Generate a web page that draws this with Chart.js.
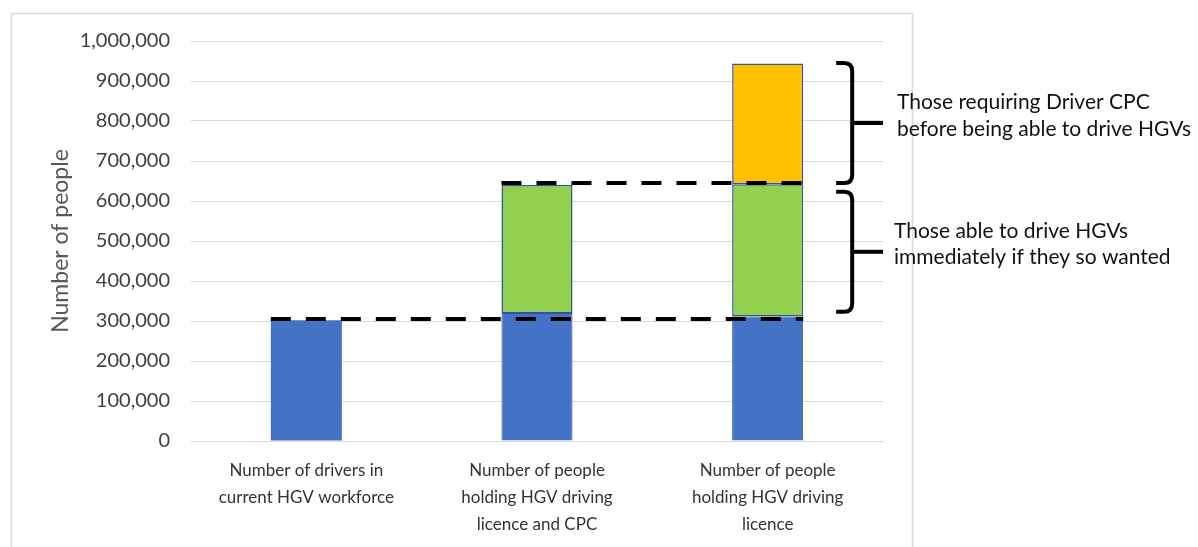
<!DOCTYPE html>
<html>
<head>
<meta charset="utf-8">
<script src="https://cdn.jsdelivr.net/npm/chart.js@4/dist/chart.umd.min.js"></script>
<style>
  html, body { margin: 0; padding: 0; background: #ffffff; }
  #wrap { position: relative; width: 1198px; height: 547px; }
</style>
</head>
<body>
<div id="wrap"><canvas id="chart" width="1198" height="547"></canvas></div>
<script>
// Categories (multi-line labels)
const categories = [
  ['Number of drivers in', 'current HGV workforce'],
  ['Number of people', 'holding HGV driving', 'licence and CPC'],
  ['Number of people', 'holding HGV driving', 'licence']
];

// Stacked segments per category
const currentWorkforce = [302000, 320000, 311000];
const ableImmediately  = [null, 320000, 331000];
const requiringCPC     = [null, null, 302000];

// Y axis
const yMax = 1000000;
const yStep = 100000;

// Reference levels drawn as dashed lines: [value, first category, last category]
const refLevels = [
  [305000, 0, 2],
  [645000, 1, 2]
];

// Braces beside the last bar: [top value, bottom value]
const braceRanges = [
  [945000, 645000],
  [623000, 323000]
];
const braceTexts = [
  ['Those requiring Driver CPC', 'before being able to drive HGVs'],
  ['Those able to drive HGVs', 'immediately if they so wanted']
];

const FONT = 'Lato, "Open Sans", sans-serif';
const outline = '#2F5597';

const annotations = {
  id: 'annotations',
  beforeDraw(chart) {
    const ctx = chart.ctx;
    ctx.save();
    ctx.fillStyle = '#ffffff';
    ctx.fillRect(0, 0, chart.width, chart.height);
    // chart-area frame
    ctx.strokeStyle = '#d9d9d9';
    ctx.lineWidth = 1.5;
    ctx.beginPath();
    ctx.moveTo(11.5, chart.height + 2);
    ctx.lineTo(11.5, 13.5);
    ctx.lineTo(912.5, 13.5);
    ctx.lineTo(912.5, chart.height + 2);
    ctx.stroke();
    ctx.restore();
  },
  afterDatasetsDraw(chart) {
    const ctx = chart.ctx;
    const y = chart.scales.y;
    const meta = chart.getDatasetMeta(0);
    ctx.save();

    // dashed reference lines
    ctx.strokeStyle = '#000000';
    ctx.lineWidth = 4;
    ctx.setLineDash([20, 15]);
    refLevels.forEach(([v, a, b]) => {
      const ea = meta.data[a], eb = meta.data[b];
      const x0 = ea.x - ea.width / 2;
      const x1 = eb.x + eb.width / 2;
      const py = y.getPixelForValue(v);
      ctx.beginPath();
      ctx.moveTo(x0, py);
      ctx.lineTo(x1, py);
      ctx.stroke();
    });
    ctx.setLineDash([]);

    // braces and their captions
    const last = meta.data[meta.data.length - 1];
    const bx = last.x + last.width / 2 + 49;
    const tipX = chart.chartArea.right;
    ctx.lineWidth = 4;
    ctx.lineCap = 'butt';
    ctx.lineJoin = 'round';
    braceRanges.forEach(([top, bot], i) => {
      const yt = y.getPixelForValue(top);
      const yb = y.getPixelForValue(bot);
      const ym = (yt + yb) / 2;
      const r = 8;
      ctx.beginPath();
      ctx.moveTo(bx - 16, yt);
      ctx.lineTo(bx - r, yt);
      ctx.quadraticCurveTo(bx, yt, bx, yt + r);
      ctx.lineTo(bx, yb - r);
      ctx.quadraticCurveTo(bx, yb, bx - r, yb);
      ctx.lineTo(bx - 16, yb);
      ctx.stroke();
      ctx.beginPath();
      ctx.moveTo(bx, ym);
      ctx.lineTo(tipX, ym);
      ctx.stroke();

      ctx.fillStyle = '#111111';
      ctx.font = '21px ' + FONT;
      ctx.textAlign = 'left';
      ctx.textBaseline = 'alphabetic';
      const tx = tipX + (i === 0 ? 14 : 11);
      const lines = braceTexts[i];
      const lh = 26.5;
      const base0 = ym - 14;
      lines.forEach((t, k) => ctx.fillText(t, tx, base0 + k * lh));
    });
    ctx.restore();
  }
};

new Chart(document.getElementById('chart'), {
  type: 'bar',
  data: {
    labels: categories,
    datasets: [
      {
        label: 'Current workforce',
        data: currentWorkforce,
        backgroundColor: '#4472C4',
        borderColor: outline,
        borderWidth: [0, 1, 1],
        borderSkipped: 'bottom'
      },
      {
        label: 'Able to drive immediately',
        data: ableImmediately,
        backgroundColor: '#92D050',
        borderColor: outline,
        borderWidth: 1.5,
        borderSkipped: false
      },
      {
        label: 'Requiring Driver CPC',
        data: requiringCPC,
        backgroundColor: '#FFC000',
        borderColor: outline,
        borderWidth: 1.5,
        borderSkipped: false
      }
    ]
  },
  options: {
    responsive: false,
    animation: false,
    devicePixelRatio: 1,
    layout: { padding: { left: 44, right: 315, top: 41, bottom: 0 } },
    plugins: {
      legend: { display: false },
      tooltip: { enabled: false }
    },
    datasets: {
      bar: { categoryPercentage: 1.0, barPercentage: 0.308 }
    },
    scales: {
      x: {
        stacked: true,
        grid: { display: false, drawTicks: false },
        border: { color: '#d9d9d9', width: 1 },
        ticks: {
          color: '#333333',
          font: { family: FONT, size: 17, lineHeight: 1.58 },
          padding: 16,
          maxRotation: 0,
          autoSkip: false
        },
        afterFit(scale) { scale.height = 106; }
      },
      y: {
        stacked: true,
        min: 0,
        max: yMax,
        grid: { color: '#d9d9d9', lineWidth: 1, drawTicks: false },
        border: { display: false },
        ticks: {
          stepSize: yStep,
          color: '#404040',
          font: { family: FONT, size: 20 },
          padding: 21,
          callback: (v) => Number(v).toLocaleString('en-US')
        },
        title: {
          display: true,
          text: 'Number of people',
          color: '#595959',
          font: { family: FONT, size: 23 },
          padding: { top: 3, bottom: 3 }
        },
        afterFit(scale) { scale.width = 147; }
      }
    }
  },
  plugins: [annotations]
});
</script>
</body>
</html>
